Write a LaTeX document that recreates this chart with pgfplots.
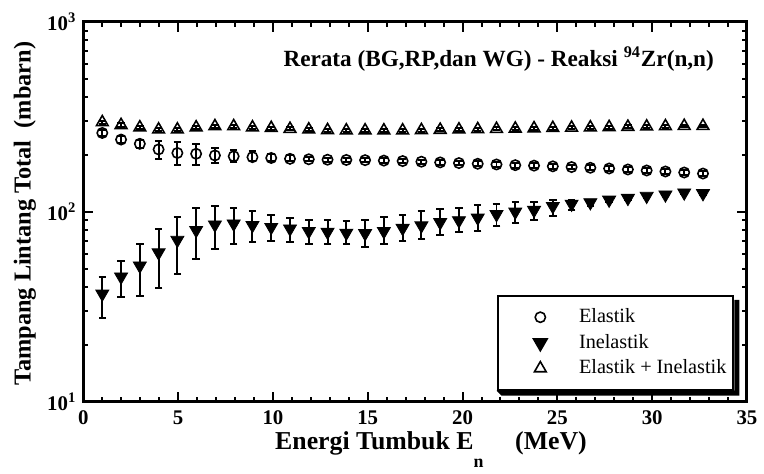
\documentclass[border=0pt]{standalone}
\usepackage{pgfplots}
\pgfplotsset{compat=1.18}
\usepackage{pgfplotstable}
\usepackage{fontspec}
\setmainfont{Liberation Serif}

% x  y  plus  minus
\pgfplotstableread{
x y ep em
1.00 260 8 8
1.99 240 10 10
2.98 228 12 12
3.97 213 23 24
4.96 204 30 28
5.95 202 25 26
6.94 198 19 18
7.93 196 16 13
8.92 194 14 9
9.91 192 10 8
10.90 190 8 6
11.89 189 6 5
12.88 188 5 5
13.87 187.5 5 5
14.86 187 5 5
15.85 186 5 5
16.84 185 5 5
17.83 183.5 5 5
18.82 182 5 5
19.81 180.5 5 5
20.80 179 5 5
21.79 177.5 5 5
22.78 176 5 5
23.77 175 5 5
24.76 173.5 5 5
25.75 172 5 5
26.74 170.5 5 5
27.73 169 5 5
28.72 167 5 5
29.71 165 5 5
30.70 163 5 5
31.69 161 5 5
32.68 159 5 5
}\elastik

\pgfplotstableread{
x y ep em
1.00 37 8.5 9.5
1.99 45.5 9.7 10.1
2.98 52 15.9 16.1
3.97 61 20 21.4
4.96 71 22.5 23.7
5.95 80 24.6 23.7
6.94 85.5 22 22
7.93 86.5 18.1 19
8.92 85 15.5 15.5
9.91 83 13.4 12.7
10.90 81.5 11.2 12
11.89 79 11.8 11
12.88 78.3 12.5 10.8
13.87 77.4 12.3 9.9
14.86 77 13.8 11.5
15.85 79 14.5 11.5
16.84 82 14.4 11.7
17.83 84.6 15.9 12.9
18.82 88 15.7 12.3
19.81 90 15 12.1
20.80 93 15.7 13.3
21.79 97 13 13
22.78 100 12.4 12.3
23.77 102 11 11.5
24.76 107 9 12
25.75 110 5 8
26.74 112 4 5
27.73 115.5 3 3
28.72 118 3 3
29.71 121 3 3
30.70 123 2 2
31.69 126 2 2
32.68 125 2 2
}\inelastik

\pgfplotstableread{
x y ep em
1.00 296 6 6
1.99 286 6 6
2.98 278 5 5
3.97 271 5 5
4.96 271 5 5
5.95 278 5 5
6.94 282 5 5
7.93 282 5 5
8.92 278 5 5
9.91 276 5 5
10.90 273 5 5
11.89 271 5 5
12.88 269 5 5
13.87 268 5 5
14.86 268 5 5
15.85 268 5 5
16.84 268 5 5
17.83 269 5 5
18.82 270 5 5
19.81 271 5 5
20.80 272 5 5
21.79 273 5 5
22.78 274 5 5
23.77 275 5 5
24.76 276 5 5
25.75 277 5 5
26.74 278 5 5
27.73 279 5 5
28.72 280 5 5
29.71 281 5 5
30.70 282 5 5
31.69 283 5 5
32.68 283 5 5
}\total

\begin{document}
\begin{tikzpicture}
\begin{axis}[
  scale only axis, width=334.5pt, height=191.5pt,
  xmin=0, xmax=35, ymin=10, ymax=1000, ymode=log,
  xtick={0,5,...,35}, xticklabels={0,5,10,15,20,25,30,35},
  minor x tick num=4,
  ytick={10,100,1000},
  yticklabels={\textbf{10}\textsuperscript{\textbf{1}},\textbf{10}\textsuperscript{\textbf{2}},\textbf{10}\textsuperscript{\textbf{3}}},
  tick align=inside, xtick pos=both, ytick pos=both,
  major tick length=5pt, minor tick length=2.5pt,
  every tick/.style={black, line width=1pt},
  axis line style={line width=1.5pt},
  tick label style={font=\fontsize{10.5}{12}\selectfont\bfseries},
  xticklabel style={yshift=-1pt},
  every axis y label/.style={at={(axis description cs:0,0.5)}, xshift=-29.5pt, yshift=-1pt, rotate=90, anchor=center,
    font=\fontsize{12.25}{15}\selectfont\bfseries},
  every axis x label/.style={at={(axis description cs:0.5,0)}, xshift=8pt, yshift=-24pt, anchor=base,
    font=\fontsize{13}{15}\selectfont\bfseries},
  ylabel={Tampang Lintang Total\ \ (mbarn)},
  xlabel={Energi Tumbuk E\raisebox{-9pt}{\fontsize{9}{10}\selectfont n}\hspace{16pt}(MeV)},
  error bars/error bar style={line width=1pt, black},
  error bars/error mark options={rotate=90, mark size=1.9pt, line width=1pt, black},
  legend style={name=lgd, at={(rel axis cs:0.981,0.029)}, anchor=south east,
    draw=black, line width=1pt, fill=white, inner xsep=1.5pt, inner ysep=4.5pt,
    row sep=0.3pt, font=\fontsize{10.2}{12}\selectfont, cells={anchor=west},
    /tikz/every even column/.append style={column sep=4pt}},
  legend image code/.code={\draw[#1] plot coordinates {(0pt,0pt)}; \path (-19.5pt,0pt) (17pt,0pt);},
]
\addplot[only marks, mark=o, mark size=2.6pt, line width=0.8pt, black,
  error bars/.cd, y dir=both, y explicit]
  table[x=x, y=y, y error plus=ep, y error minus=em] {\elastik};
\addplot[only marks, mark=triangle*, mark size=3.8pt, black,
  mark options={rotate=180, fill=black},
  error bars/.cd, y dir=both, y explicit]
  table[x=x, y=y, y error plus=ep, y error minus=em] {\inelastik};
\addplot[only marks, mark=triangle, mark size=3.4pt, line width=0.8pt, black,
  error bars/.cd, y dir=both, y explicit]
  table[x=x, y=y, y error plus=ep, y error minus=em] {\total};
\legend{Elastik, Inelastik, Elastik + Inelastik}
\node[anchor=base east, inner sep=0pt, font=\fontsize{11.7}{14}\selectfont\bfseries]
  at (rel axis cs:0.9507,0.8825) {Rerata (BG,RP,dan WG) - Reaksi \textsuperscript{94}Zr(n,n)};
\end{axis}
\fill[black] ([yshift=-2.5pt]lgd.north east) -- ++(2.5pt,0) -- ([shift={(2.5pt,-2.5pt)}]lgd.south east)
  -- ([shift={(2.5pt,-2.5pt)}]lgd.south west) -- (lgd.south west) -- (lgd.south east) -- cycle;
\path (-42pt,-35pt) rectangle (340pt,202.5pt);
\end{tikzpicture}
\end{document}
